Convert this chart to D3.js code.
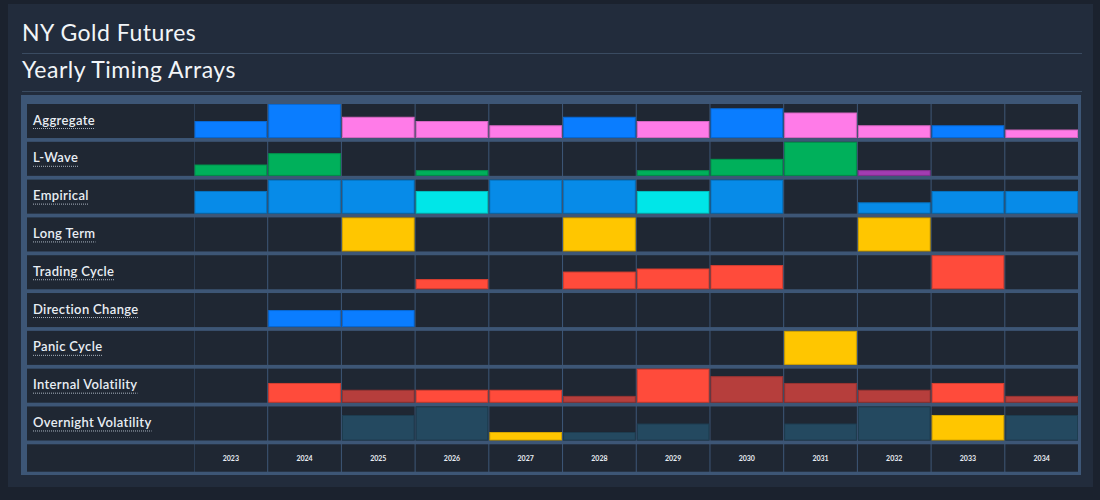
<!DOCTYPE html>
<html><head><meta charset="utf-8">
<script src="https://cdn.jsdelivr.net/npm/d3@7"></script>
<style>html,body{margin:0;padding:0;background:#1a212c;} svg{display:block}</style>
</head><body><svg id="c" width="1100" height="500"></svg>
<script>
const titleText = "NY Gold Futures";
const subtitleText = "Yearly Timing Arrays";
const years = ["2023","2024","2025","2026","2027","2028","2029","2030","2031","2032","2033","2034"];
const rowLabels = ["Aggregate","L-Wave","Empirical","Long Term","Trading Cycle","Direction Change","Panic Cycle","Internal Volatility","Overnight Volatility"];

const aggregateValues = [0.5,1,0.625,0.5,0.375,0.625,0.5,0.875,0.75,0.375,0.375,0.25];
const aggregateColors = ["blue","blue","pink","pink","pink","blue","pink","blue","pink","pink","blue","pink"];
const lWaveValues = [0.333,0.667,0,0.167,0,0,0.167,0.5,1,0.167,0,0];
const lWaveColors = ["green","green","green","green","green","green","green","green","green","purple","green","green"];
const empiricalValues = [0.667,1,1,0.667,1,1,0.667,1,0,0.333,0.667,0.667];
const empiricalColors = ["sky","sky","sky","cyan","sky","sky","cyan","sky","sky","sky","sky","sky"];
const longTermValues = [0,0,1,0,0,1,0,0,0,1,0,0];
const tradingCycleValues = [0,0,0,0.3,0,0.52,0.61,0.71,0,0,1,0];
const directionChangeValues = [0,0.5,0.5,0,0,0,0,0,0,0,0,0];
const panicCycleValues = [0,0,0,0,0,0,0,0,1,0,0,0];
const internalVolValues = [0,0.58,0.38,0.38,0.38,0.2,1,0.78,0.58,0.38,0.58,0.2];
const internalVolColors = ["red","red","darkred","red","red","darkred","red","darkred","darkred","darkred","red","darkred"];
const overnightVolValues = [0,0,0.75,1,0.25,0.25,0.5,0,0.5,1,0.75,0.75];
const overnightVolColors = ["teal","teal","teal","teal","yellow","teal","teal","teal","teal","teal","yellow","teal"];

const palette = {
  blue:"#0a7dff", pink:"#ff7be8", green:"#00b05b", purple:"#a23cb2",
  sky:"#078be8", cyan:"#00e6e8", yellow:"#ffc600", red:"#ff4b3b",
  darkred:"#b63e3c", teal:"#244960"
};

const rows = [
  {values:aggregateValues, colors:aggregateColors},
  {values:lWaveValues, colors:lWaveColors},
  {values:empiricalValues, colors:empiricalColors},
  {values:longTermValues, colors:years.map(()=>"yellow")},
  {values:tradingCycleValues, colors:years.map(()=>"red")},
  {values:directionChangeValues, colors:years.map(()=>"blue")},
  {values:panicCycleValues, colors:years.map(()=>"yellow")},
  {values:internalVolValues, colors:internalVolColors},
  {values:overnightVolValues, colors:overnightVolColors}
];

const svg = d3.select("#c");
const font = "Lato, 'Open Sans', sans-serif";

// panel
svg.append("rect").attr("x",0).attr("y",0).attr("width",1100).attr("height",500).attr("fill","#1b222e");
svg.append("rect").attr("x",8).attr("y",4).attr("width",1085).attr("height",483).attr("fill","#222c3c");

// titles
svg.append("text").attr("x",22).attr("y",41).text(titleText)
  .attr("font-family",font).attr("font-size",23).attr("letter-spacing",0.5).attr("fill","#f2f5f8");
svg.append("line").attr("x1",22).attr("x2",1082).attr("y1",53.5).attr("y2",53.5).attr("stroke","#3a4b61").attr("stroke-width",1.2);
svg.append("text").attr("x",22).attr("y",78).text(subtitleText)
  .attr("font-family",font).attr("font-size",23).attr("letter-spacing",0.5).attr("fill","#f2f5f8");
svg.append("line").attr("x1",22).attr("x2",1082).attr("y1",91.5).attr("y2",91.5).attr("stroke","#3a4b61").attr("stroke-width",1.2);

// grid frame
svg.append("rect").attr("x",21).attr("y",95).attr("width",1060).attr("height",380).attr("fill","#3d5676");

const x = d3.scaleBand().domain(years).range([194.5,1078]).paddingInner(0.014).paddingOuter(0);
const y = d3.scaleBand().domain(rowLabels).range([104,440.5]).paddingInner(0.1).paddingOuter(0);
const labelRowTop = 444.3, labelRowBottom = 471.7;
const cellBg = "#1f2733";

const g = svg.append("g");
rowLabels.forEach((lab, i) => {
  const top = y(lab), h = y.bandwidth();
  g.append("rect").attr("x",27).attr("y",top).attr("width",167).attr("height",h).attr("fill",cellBg);
  const t = g.append("text").attr("x",33).attr("y",top+20.5).text(lab)
    .attr("font-family",font).attr("font-size",13).attr("letter-spacing",0.35).attr("font-weight",600).attr("fill","#e9eef4");
  const w = t.node().getComputedTextLength();
  g.append("line").attr("x1",33).attr("x2",33+w).attr("y1",top+24.5).attr("y2",top+24.5)
    .attr("stroke","#a9b3bf").attr("stroke-width",1).attr("stroke-dasharray","1,1");
  const r = rows[i];
  const hScale = d3.scaleLinear().domain([0,1]).range([0,h]);
  years.forEach((yr, j) => {
    g.append("rect").attr("x",x(yr)).attr("y",top).attr("width",x.bandwidth()).attr("height",h).attr("fill",cellBg);
    const v = r.values[j];
    if (v > 0) {
      const c = palette[r.colors[j]];
      g.append("rect").attr("x",x(yr)+0.5).attr("y",top+h-hScale(v)+0.5)
        .attr("width",x.bandwidth()-1).attr("height",hScale(v)-1)
        .attr("fill",c).attr("stroke",d3.color(c).darker(0.5)).attr("stroke-width",1);
    }
  });
});

// label row
g.append("rect").attr("x",27).attr("y",labelRowTop).attr("width",167).attr("height",labelRowBottom-labelRowTop).attr("fill",cellBg);
years.forEach(yr => {
  g.append("rect").attr("x",x(yr)).attr("y",labelRowTop).attr("width",x.bandwidth()).attr("height",labelRowBottom-labelRowTop).attr("fill",cellBg);
  g.append("text").attr("x",x(yr)+x.bandwidth()/2).attr("y",461).attr("text-anchor","middle").text(yr)
    .attr("font-family",font).attr("font-size",7).attr("font-weight",700).attr("fill","#e9eef4");
});
</script></body></html>
